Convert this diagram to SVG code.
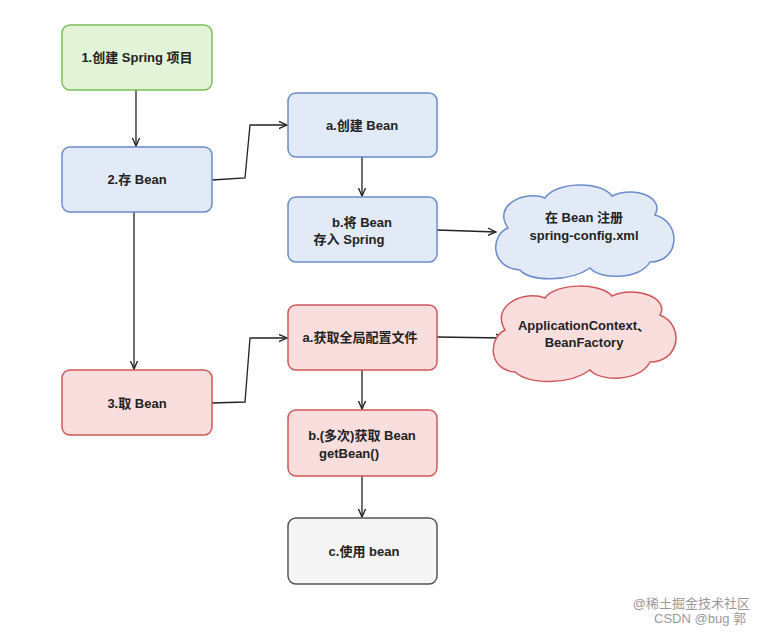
<svg xmlns="http://www.w3.org/2000/svg" width="768" height="633" viewBox="0 0 768 633">
<style>
text{font-family:"Liberation Sans","Noto Sans CJK SC",sans-serif;font-size:13px;font-weight:bold;fill:#222;text-anchor:middle}
.g{fill:#e3f3d8;stroke:#7cbf5a;stroke-width:1.5}
.b{fill:#e2eaf8;stroke:#6b8cc9;stroke-width:1.5}
.r{fill:#fadede;stroke:#d0575a;stroke-width:1.5}
.k{fill:#f5f5f5;stroke:#555;stroke-width:1.5}
.c{fill:none;stroke:#222;stroke-width:1.3;marker-end:url(#ar)}
.wm{font-weight:normal;fill:#999;text-anchor:end}
</style>
<defs><marker id="ar" viewBox="0 0 10 10" refX="9" refY="5" markerWidth="7" markerHeight="7" orient="auto"><path d="M0,1 L9,5 L0,9" fill="none" stroke="#222" stroke-width="1.5"/></marker></defs>
<rect width="768" height="633" fill="#fff"/>
<g id="connectors">
<path class="c" d="M136,90 V146"/>
<path class="c" d="M212,180 L245,178 L250,125 L287,125"/>
<path class="c" d="M362,157 V196"/>
<path class="c" d="M437,230 L496,232"/>
<path class="c" d="M134,212 V369"/>
<path class="c" d="M212,403 L245,402 L250,338 L287,338"/>
<path class="c" d="M437,337 L504,338"/>
<path class="c" d="M362,370 V409"/>
<path class="c" d="M362,476 V517"/>
</g>
<g id="n1"><rect class="g" x="62" y="25" width="150" height="65" rx="8"/><text x="137" y="62">1.创建 Spring 项目</text></g>
<g id="n2"><rect class="b" x="62" y="147" width="150" height="65" rx="8"/><text x="137" y="184">2.存 Bean</text></g>
<g id="na1"><rect class="b" x="288" y="93" width="149" height="64" rx="8"/><text x="362" y="130">a.创建 Bean</text></g>
<g id="nb1"><rect class="b" x="288" y="197" width="149" height="65" rx="8"/><text x="362" y="227">b.将 Bean</text><text x="349" y="244">存入 Spring</text></g>
<g id="cloud1"><path class="b" d="M520,270 C490,268 490,235 508,228 C492,205 525,190 545,198 C555,182 600,180 612,196 C635,185 665,198 655,215 C682,222 680,262 650,262 C640,280 600,280 590,268 C570,282 530,282 520,270 Z"/><text x="584" y="222">在 Bean 注册</text><text x="584" y="240">spring-config.xml</text></g>
<g id="na2"><rect class="r" x="288" y="305" width="149" height="65" rx="8"/><text x="360" y="342">a.获取全局配置文件</text></g>
<g id="cloud2"><path class="r" d="M515,372 C488,370 488,338 505,330 C490,305 525,290 545,298 C555,283 600,282 612,296 C635,285 670,298 660,315 C685,325 680,362 650,362 C640,382 600,382 590,370 C570,385 530,385 515,372 Z"/><text x="584" y="330">ApplicationContext、</text><text x="584" y="347">BeanFactory</text></g>
<g id="n3"><rect class="r" x="62" y="370" width="150" height="65" rx="8"/><text x="137" y="408">3.取 Bean</text></g>
<g id="nb2"><rect class="r" x="288" y="410" width="149" height="66" rx="8"/><text x="362" y="440">b.(多次)获取 Bean</text><text x="349" y="458">getBean()</text></g>
<g id="nc"><rect class="k" x="288" y="518" width="149" height="66" rx="8"/><text x="364" y="556">c.使用 bean</text></g>
<text class="wm" x="750" y="608" font-size="13">@稀土掘金技术社区</text>
<text class="wm" x="746" y="623" font-size="11" fill="#aaa">CSDN @bug 郭</text>
</svg>
